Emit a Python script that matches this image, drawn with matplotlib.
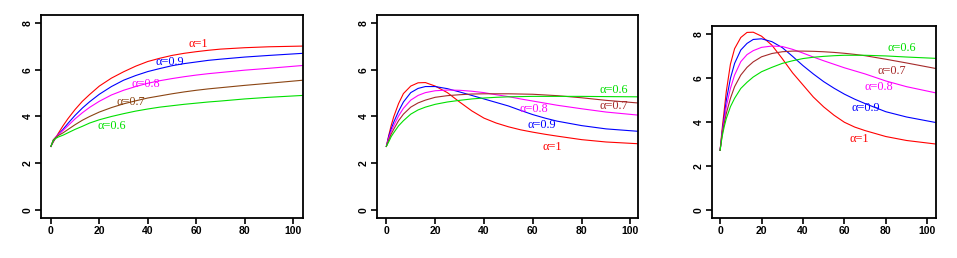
import numpy as np
import matplotlib
matplotlib.use("Agg")
import matplotlib.pyplot as plt

# time grid shared by all curves
t = [0, 1, 2, 3, 5, 7, 10, 13, 16, 20, 25, 30, 35, 40, 45, 50, 55, 60, 65, 70, 80, 90, 104]

alphas = ["1", "0.9", "0.8", "0.7", "0.6"]

# panel 1 (left)
p1_a10 = [2.72, 2.91, 3.09, 3.27, 3.60, 3.90, 4.30, 4.65, 4.94, 5.30, 5.64, 5.91, 6.15, 6.35, 6.49, 6.61, 6.70, 6.77, 6.83, 6.88, 6.94, 6.98, 7.01]
p1_a09 = [2.72, 2.95, 3.10, 3.22, 3.45, 3.70, 4.05, 4.36, 4.63, 4.95, 5.28, 5.55, 5.75, 5.92, 6.05, 6.17, 6.26, 6.33, 6.40, 6.45, 6.54, 6.61, 6.70]
p1_a08 = [2.72, 3.00, 3.12, 3.22, 3.40, 3.60, 3.90, 4.16, 4.39, 4.65, 4.92, 5.12, 5.28, 5.42, 5.53, 5.62, 5.70, 5.77, 5.83, 5.88, 5.98, 6.06, 6.18]
p1_a07 = [2.72, 3.00, 3.10, 3.18, 3.30, 3.44, 3.65, 3.84, 4.00, 4.19, 4.38, 4.54, 4.67, 4.79, 4.88, 4.97, 5.05, 5.12, 5.18, 5.23, 5.33, 5.42, 5.55]
p1_a06 = [2.72, 2.98, 3.06, 3.12, 3.20, 3.30, 3.45, 3.58, 3.72, 3.86, 4.00, 4.12, 4.23, 4.32, 4.40, 4.46, 4.52, 4.57, 4.62, 4.66, 4.75, 4.82, 4.90]

# panel 2 (middle)
p2_a10 = [2.72, 3.20, 3.62, 3.98, 4.55, 4.98, 5.30, 5.44, 5.45, 5.30, 5.02, 4.62, 4.24, 3.93, 3.72, 3.56, 3.43, 3.33, 3.24, 3.16, 3.01, 2.91, 2.83]
p2_a09 = [2.72, 3.15, 3.47, 3.75, 4.22, 4.62, 5.02, 5.20, 5.28, 5.28, 5.19, 5.05, 4.90, 4.75, 4.60, 4.45, 4.26, 4.08, 3.93, 3.80, 3.61, 3.47, 3.36]
p2_a08 = [2.72, 3.08, 3.37, 3.60, 4.02, 4.35, 4.70, 4.90, 5.02, 5.10, 5.13, 5.12, 5.08, 5.02, 4.93, 4.85, 4.75, 4.66, 4.57, 4.48, 4.33, 4.19, 4.05]
p2_a07 = [2.72, 3.00, 3.25, 3.45, 3.82, 4.10, 4.40, 4.58, 4.70, 4.82, 4.89, 4.93, 4.96, 4.97, 4.97, 4.97, 4.96, 4.95, 4.92, 4.89, 4.80, 4.69, 4.57]
p2_a06 = [2.72, 2.92, 3.14, 3.30, 3.60, 3.82, 4.10, 4.28, 4.40, 4.52, 4.62, 4.69, 4.75, 4.79, 4.82, 4.84, 4.85, 4.86, 4.86, 4.86, 4.86, 4.85, 4.84]

# panel 3 (right)
p3_a10 = [2.72, 3.70, 4.55, 5.40, 6.65, 7.35, 7.86, 8.09, 8.10, 7.92, 7.51, 6.90, 6.25, 5.70, 5.15, 4.70, 4.32, 4.00, 3.78, 3.62, 3.35, 3.17, 3.01]
p3_a09 = [2.72, 3.55, 4.25, 5.00, 6.00, 6.68, 7.29, 7.59, 7.77, 7.80, 7.67, 7.40, 7.00, 6.58, 6.20, 5.85, 5.55, 5.28, 5.05, 4.85, 4.48, 4.24, 3.99]
p3_a08 = [2.72, 3.50, 4.10, 4.71, 5.54, 6.15, 6.76, 7.08, 7.26, 7.41, 7.47, 7.45, 7.32, 7.15, 6.97, 6.80, 6.64, 6.48, 6.34, 6.20, 5.88, 5.62, 5.34]
p3_a07 = [2.72, 3.45, 3.95, 4.40, 5.09, 5.62, 6.15, 6.50, 6.75, 6.98, 7.13, 7.21, 7.24, 7.24, 7.23, 7.21, 7.18, 7.14, 7.09, 7.03, 6.87, 6.70, 6.45]
p3_a06 = [2.72, 3.35, 3.80, 4.17, 4.71, 5.09, 5.54, 5.82, 6.06, 6.30, 6.50, 6.68, 6.80, 6.90, 6.96, 7.00, 7.03, 7.05, 7.05, 7.05, 7.02, 6.97, 6.91]

# label anchor points (x, y) per panel, in alpha order
p1_lab = [(61, 7.12), (49, 6.32), (39, 5.41), (33, 4.62), (25, 3.58)]
p2_lab = [(68, 2.71), (63.5, 3.64), (60.5, 4.33), (93, 4.43), (93, 5.15)]
p3_lab = [(67, 3.26), (70.5, 4.63), (76.5, 5.62), (83, 6.34), (87.5, 7.36)]

panels = [
    ([p1_a10, p1_a09, p1_a08, p1_a07, p1_a06], p1_lab, "#8B4513"),
    ([p2_a10, p2_a09, p2_a08, p2_a07, p2_a06], p2_lab, "#A52A2A"),
    ([p3_a10, p3_a09, p3_a08, p3_a07, p3_a06], p3_lab, "#A52A2A"),
]

# axes boxes in figure fraction (left, bottom, width, height) and limits
boxes = [
    ([0.0428, 0.155, 0.2738, 0.787], (-4.1, 104.1), (-0.34, 8.34)),
    ([0.394, 0.155, 0.2727, 0.787], (-3.8, 103.1), (-0.34, 8.34)),
    ([0.744, 0.155, 0.234, 0.744], (-3.9, 104.2), (-0.36, 8.38)),
]

fig = plt.figure(figsize=(9.57, 2.58), dpi=100)

for (curves, labs, brown), (pos, xl, yl) in zip(panels, boxes):
    ax = fig.add_axes(pos)
    colors = ["#FF0000", "#0000FF", "#FF00FF", brown, "#00E000"]
    for ys, c, a, (lx, ly) in zip(curves, colors, alphas, labs):
        ax.plot(t, ys, color=c, lw=0.8)
        ax.text(lx, ly, "\u03b1=" + a, color=c, fontsize=8.8,
                family="Liberation Serif", ha="center", va="center")
    ax.set_xlim(xl)
    ax.set_ylim(yl)
    ax.set_xticks([0, 20, 40, 60, 80, 100])
    ax.set_yticks([0, 2, 4, 6, 8])
    for s in ax.spines.values():
        s.set_linewidth(1.3)
    ax.tick_params(length=4, width=1.2, labelsize=7.5, pad=2)
    for lab in ax.get_xticklabels() + ax.get_yticklabels():
        lab.set_fontweight("bold")
        lab.set_family("Liberation Sans")
    for lab in ax.get_yticklabels():
        lab.set_rotation(90)
        lab.set_va("center")

fig.savefig("out.png", dpi=100)
